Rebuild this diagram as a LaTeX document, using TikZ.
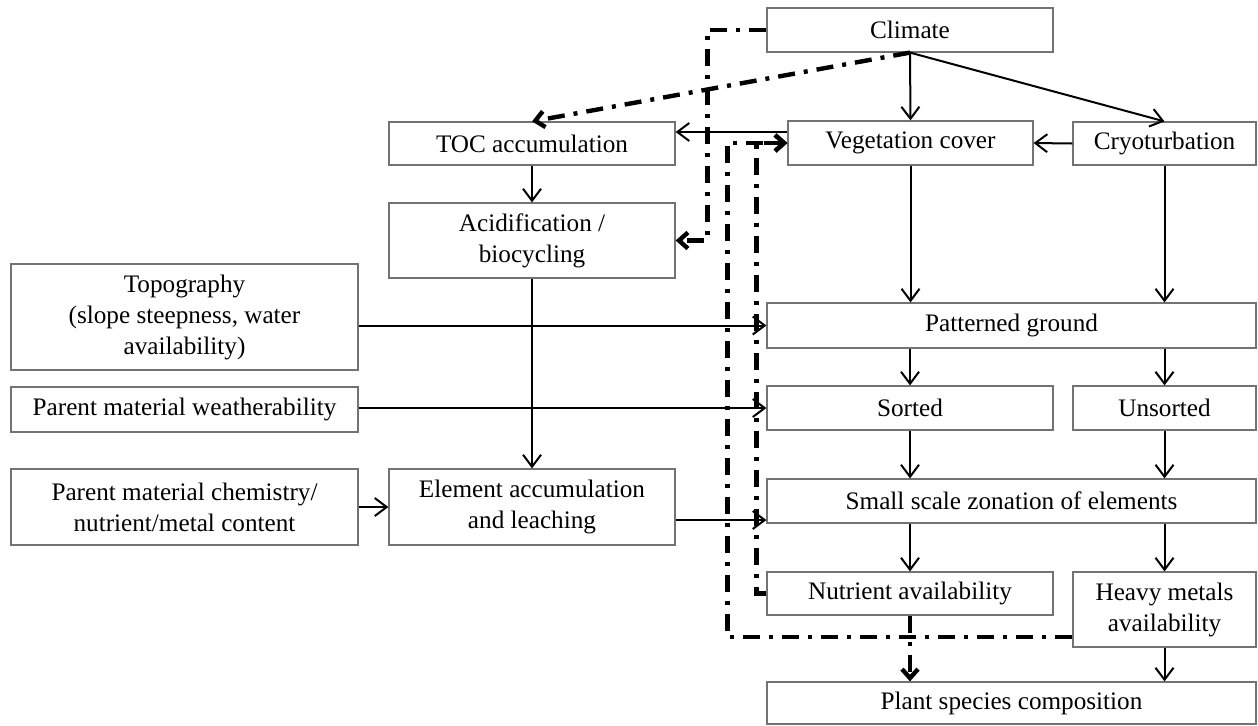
\documentclass[tikz,border=0pt]{standalone}
\usepackage{fontspec}
\setmainfont{Liberation Serif}
\usetikzlibrary{arrows.meta}

\tikzset{
  box/.style={draw=black!55, line width=0.6pt, inner sep=0pt, align=center,
    font=\fontsize{12.6}{15.5}\selectfont},
  arr/.style={line width=1pt, -{Straight Barb[length=6pt,width=9pt]}},
  fb/.style={line width=2.2pt, dash pattern=on 8.5pt off 4.5pt on 2pt off 4.5pt,
    -{Straight Barb[length=4.5pt,width=8pt]}},
}

\begin{document}
\begin{tikzpicture}[x=0.5pt,y=-0.5pt]
\useasboundingbox (0,0) rectangle (1258,725);
%BOXES
\node[box, minimum width=143pt, minimum height=22pt] (climate) at (910,30) {Climate};
\node[box, minimum width=143pt, minimum height=21.5pt] (toc) at (532,143.5) {TOC accumulation};
\node[box, minimum width=122.5pt, minimum height=22pt] (veg) at (910.5,143) {Vegetation cover};
\node[box, minimum width=91.5pt, minimum height=21.5pt] (cryo) at (1164.5,143.5) {Cryoturbation};
\node[box, minimum width=143pt, minimum height=37.5pt] (acid) at (532,240.5) {Acidification /\\biocycling};
\node[box, minimum width=173.5pt, minimum height=53pt] (topo) at (184.5,317) {Topography\\(slope steepness, water\\availability)};
\node[box, minimum width=244.5pt, minimum height=22.5pt] (pat) at (1011.5,325.5) {Patterned ground};
\node[box, minimum width=173.5pt, minimum height=22.5pt] (weath) at (184.5,409.5) {Parent material weatherability};
\node[box, minimum width=143pt, minimum height=22pt] (sorted) at (910,408) {Sorted};
\node[box, minimum width=91.5pt, minimum height=22pt] (unsorted) at (1164.5,408) {Unsorted};
\node[box, minimum width=173.5pt, minimum height=38pt] (chem) at (184.5,507) {Parent material chemistry/\\nutrient/metal content};
\node[box, minimum width=143pt, minimum height=38pt] (elem) at (532,507) {Element accumulation\\and leaching};
\node[box, minimum width=244.5pt, minimum height=22pt] (small) at (1011.5,501) {Small scale zonation of elements};
\node[box, minimum width=143pt, minimum height=21.5pt] (nutr) at (910,593.5) {Nutrient availability};
\node[box, minimum width=91.5pt, minimum height=37.5pt] (heavy) at (1164.5,609.5) {Heavy metals\\availability};
\node[box, minimum width=244.5pt, minimum height=21pt] (plant) at (1011.5,703) {Plant species composition};
%ARROWS
\draw[arr] (climate.south) -- (veg.north);
\draw[arr] (climate.south) -- (cryo.north);
\draw[arr] (cryo.west) -- (veg.east);
\draw[arr] ([yshift=5.5pt]veg.west) -- ([yshift=5.5pt]veg.west -| toc.east);
\draw[arr] (toc.south) -- (acid.north);
\draw[arr] (acid.south) -- (elem.north);
\draw[arr] (topo.east |- pat.west) -- (pat.west);
\draw[arr] (weath.east |- sorted.west) -- (sorted.west);
\draw[arr] (chem.east) -- (elem.west);
\draw[arr] ([yshift=-6.5pt]elem.east) -- ([yshift=-6.5pt]elem.east -| small.west);
\draw[arr] (veg.south) -- (veg.south |- pat.north);
\draw[arr] (cryo.south) -- (cryo.south |- pat.north);
\draw[arr] (sorted.north |- pat.south) -- (sorted.north);
\draw[arr] (unsorted.north |- pat.south) -- (unsorted.north);
\draw[arr] (sorted.south) -- (sorted.south |- small.north);
\draw[arr] (unsorted.south) -- (unsorted.south |- small.north);
\draw[arr] (nutr.north |- small.south) -- (nutr.north);
\draw[arr] (heavy.north |- small.south) -- (heavy.north);
\draw[arr] (heavy.south) -- (heavy.south |- plant.north);
%FEEDBACK
\draw[fb] (climate.west) -- ++(-59,0) |- (acid.east);
\draw[fb] (climate.south) -- (toc.north);
\draw[fb] (nutr.west) -- ++(-10,0) |- (veg.west);
\draw[fb] ([yshift=-13.75pt]heavy.west) -- ++(-345,0) |- (veg.west);
\draw[fb] (nutr.south) -- (nutr.south |- plant.north);
\end{tikzpicture}
\end{document}
